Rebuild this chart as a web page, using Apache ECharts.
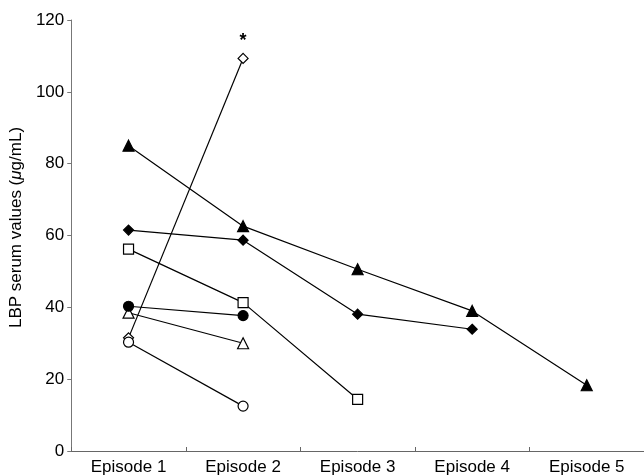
<!DOCTYPE html>
<html>
<head>
<meta charset="utf-8">
<script src="https://cdn.jsdelivr.net/npm/echarts@6/dist/echarts.min.js"></script>
<style>html,body{margin:0;padding:0;background:#fff}#c{width:644px;height:476px}</style>
</head>
<body>
<div id="c"></div>
<script>
var categories = ['Episode 1', 'Episode 2', 'Episode 3', 'Episode 4', 'Episode 5'];
var yTicks = [0, 20, 40, 60, 80, 100, 120];
var filledTriangle = [85, 62.6, 50.6, 39, 18.3];
var filledDiamond = [61.5, 58.7, 38.1, 33.9, null];
var openSquare = [56.2, 41.3, 14.4, null, null];
var filledCircle = [40.3, 37.7, null, null, null];
var openTriangle = [38.5, 30, null, null, null];
var openCircle = [30.3, 12.5, null, null, null];
var openDiamond = [31.5, 109.3, null, null, null];
var asteriskNote = '*';

var font = 'Liberation Sans, Arial, sans-serif';
function mk(name, data, symbol, size, filled) {
  return {
    name: name, type: 'line', data: data, symbol: symbol, symbolSize: size,
    showAllSymbol: true, connectNulls: false,
    lineStyle: {color: '#000', width: 1.2},
    itemStyle: {color: filled ? '#000' : '#fff', borderColor: '#000', borderWidth: 1.2},
    emphasis: {disabled: true}, z: filled ? 3 : 2
  };
}
var series = [
  mk('odiam', openDiamond, 'diamond', 10, false),
  mk('ftri', filledTriangle, 'triangle', 11, true),
  mk('fdiam', filledDiamond, 'diamond', 10, true),
  mk('osq', openSquare, 'rect', 10, false),
  mk('otri', openTriangle, 'triangle', 11, false),
  mk('ocirc', openCircle, 'circle', 10, false),
  mk('fcirc', filledCircle, 'circle', 10, true)
];
series[0].label = {
  show: true, position: 'top', distance: 3, fontFamily: font, fontSize: 18, fontWeight: 'bold', color: '#000',
  formatter: function (p) { return p.dataIndex === 1 ? asteriskNote : ''; }
};

var chart = echarts.init(document.getElementById('c'), null, {renderer: 'canvas'});
chart.setOption({
  animation: false,
  backgroundColor: '#fff',
  grid: {left: 70, top: 20, width: 578, height: 431, containLabel: false},
  xAxis: {
    type: 'category', data: categories, boundaryGap: true,
    axisLine: {lineStyle: {color: '#666', width: 1}},
    axisTick: {show: true, inside: true, length: 4, lineStyle: {color: '#666'}},
    axisLabel: {fontFamily: font, fontSize: 17, color: '#000', margin: 8}
  },
  yAxis: {
    type: 'value', min: yTicks[0], max: yTicks[yTicks.length - 1], interval: 20,
    name: 'LBP serum values ({i|μ}g/mL)', nameLocation: 'middle', nameGap: 42,
    nameTextStyle: {fontFamily: font, fontSize: 17, color: '#000', padding: [0, 0, 0, 16],
      rich: {i: {fontStyle: 'italic', fontFamily: font, fontSize: 17}}},
    axisLine: {show: true, lineStyle: {color: '#777', width: 1}},
    axisTick: {show: true, inside: false, length: 4, lineStyle: {color: '#777'}},
    axisLabel: {fontFamily: font, fontSize: 17, color: '#000', margin: 7},
    splitLine: {show: false}
  },
  series: series
});
</script>
</body>
</html>
